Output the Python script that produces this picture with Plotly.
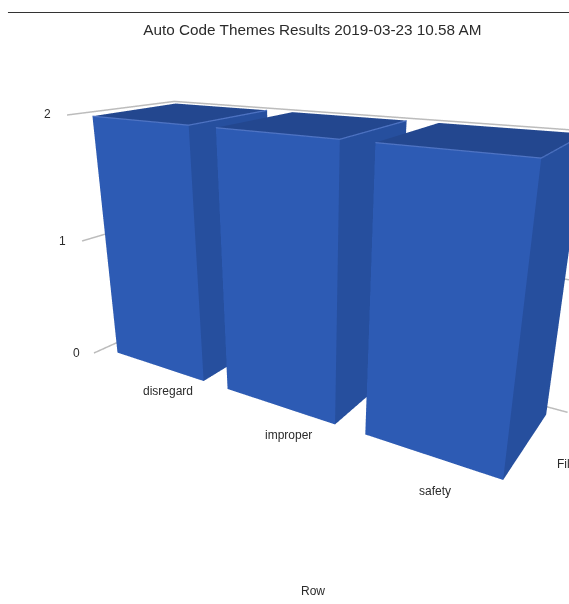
import plotly.graph_objects as go

# Chart content
title_text = "Auto Code Themes Results 2019-03-23 10.58 AM"
categories = ["disregard", "improper", "safety"]
counts = [2, 2, 2]
value_ticks = [0, 1, 2]
row_axis_title = "Row"
column_label = "Filter"

# Palette
FRONT = "#2d5bb4"
SIDE = "#264f9e"
TOP = "#23478f"
EDGE = "#4f74c4"
GRID = "#bcbcbc"
INK = "#2b2b2b"
FONT = "Liberation Sans"

BAR_SHARE = 0.8  # fraction of a category cell taken by its bar
half = BAR_SHARE / 2

x_range = [-0.62, len(categories) - 0.5]
y_range = [-0.5, 0.5]
z_range = [0, max(value_ticks)]

# where each value tick ends on the left wall, in axis units
tick_end_x = [-0.537, -0.55, -0.591]
tick_end_y = [-0.5, -0.476, -0.442]
wall_x = -0.5

# per-label pixel nudges
value_shift = [(-21, 1), (-22, 2), (-22, 3)]
category_shift = [(19, -19), (19, -22), (12, -26)]


def bar_trace(pos, value):
    xs = [pos - half, pos + half]
    ys = [-half, half]
    # eight corners: bottom ring then top ring
    vx = [xs[0], xs[1], xs[1], xs[0]] * 2
    vy = [ys[0], ys[0], ys[1], ys[1]] * 2
    vz = [0] * 4 + [value] * 4
    faces = [
        (0, 1, 5, FRONT), (0, 5, 4, FRONT),
        (1, 2, 6, SIDE), (1, 6, 5, SIDE),
        (2, 3, 7, SIDE), (2, 7, 6, SIDE),
        (3, 0, 4, SIDE), (3, 4, 7, SIDE),
        (4, 5, 6, TOP), (4, 6, 7, TOP),
        (0, 2, 1, SIDE), (0, 3, 2, SIDE),
    ]
    return go.Mesh3d(
        x=vx, y=vy, z=vz,
        i=[f[0] for f in faces], j=[f[1] for f in faces], k=[f[2] for f in faces],
        facecolor=[f[3] for f in faces],
        flatshading=True,
        lighting=dict(ambient=1, diffuse=0, specular=0, fresnel=0, roughness=1),
        showscale=False, hoverinfo="skip",
    )


def top_edge_trace(pos, value):
    # lighter rim where the top meets the front and the right side
    return go.Scatter3d(
        x=[pos - half, pos + half, pos + half],
        y=[-half, -half, half],
        z=[value, value, value],
        mode="lines", line=dict(color=EDGE, width=2.5),
        showlegend=False, hoverinfo="skip",
    )


def wall_line(z, end_x, end_y):
    return go.Scatter3d(
        x=[end_x, wall_x, x_range[1]],
        y=[end_y, y_range[1], y_range[1]],
        z=[z, z, z],
        mode="lines", line=dict(color=GRID, width=3),
        showlegend=False, hoverinfo="skip",
    )


fig = go.Figure()
for tick, ex, ey in zip(value_ticks, tick_end_x, tick_end_y):
    fig.add_trace(wall_line(tick, ex, ey))
for idx, val in enumerate(counts):
    fig.add_trace(bar_trace(idx, val))
    fig.add_trace(top_edge_trace(idx, val))

hidden_axis = dict(
    visible=False, showgrid=False, zeroline=False, showbackground=False,
    showspikes=False, showticklabels=False, title="",
)

annotations = []
for tick, (dx, dy) in zip(value_ticks, value_shift):
    annotations.append(dict(
        x=wall_x, y=y_range[0], z=tick, text=str(tick), showarrow=False,
        xshift=dx, yshift=dy, font=dict(family=FONT, size=12, color=INK),
    ))
for idx, name in enumerate(categories):
    dx, dy = category_shift[idx]
    annotations.append(dict(
        x=idx, y=y_range[0], z=0, text=name, showarrow=False,
        xshift=dx, yshift=dy, font=dict(family=FONT, size=12, color=INK),
    ))
annotations.append(dict(
    x=x_range[1], y=0, z=0, text=column_label, showarrow=False,
    xanchor="left", xshift=11, yshift=-14, font=dict(family=FONT, size=12, color=INK),
))

fig.update_layout(
    width=569, height=604, margin=dict(l=0, r=0, t=0, b=0),
    paper_bgcolor="white", showlegend=False,
    title=dict(
        text=title_text, x=0.549, xanchor="center", y=0.9515, yanchor="middle",
        font=dict(family=FONT, size=15.3, color=INK),
    ),
    shapes=[dict(
        type="line", xref="paper", yref="paper", x0=0.014, x1=1,
        y0=0.9793, y1=0.9793, line=dict(color="#333333", width=1),
    )],
    annotations=[dict(
        xref="paper", yref="paper", x=0.55, y=0.0215, yanchor="middle",
        text=row_axis_title, showarrow=False,
        font=dict(family=FONT, size=12, color=INK),
    )],
    scene=dict(
        domain=dict(x=[0, 1], y=[0, 1]),
        bgcolor="white",
        xaxis=dict(range=x_range, **hidden_axis),
        yaxis=dict(range=y_range, **hidden_axis),
        zaxis=dict(range=z_range, **hidden_axis),
        aspectmode="manual",
        aspectratio=dict(x=1.8873, y=0.59, z=1.0),
        camera=dict(
            eye=dict(x=1.3978, y=-2.1875, z=0.8602),
            center=dict(x=-0.024, y=-0.1016, z=-0.142),
            up=dict(x=-0.1979, y=0.3117, z=0.9294),
            projection=dict(type="perspective"),
        ),
        annotations=annotations,
    ),
)

fig.write_html("out.html", config=dict(displayModeBar=False))
